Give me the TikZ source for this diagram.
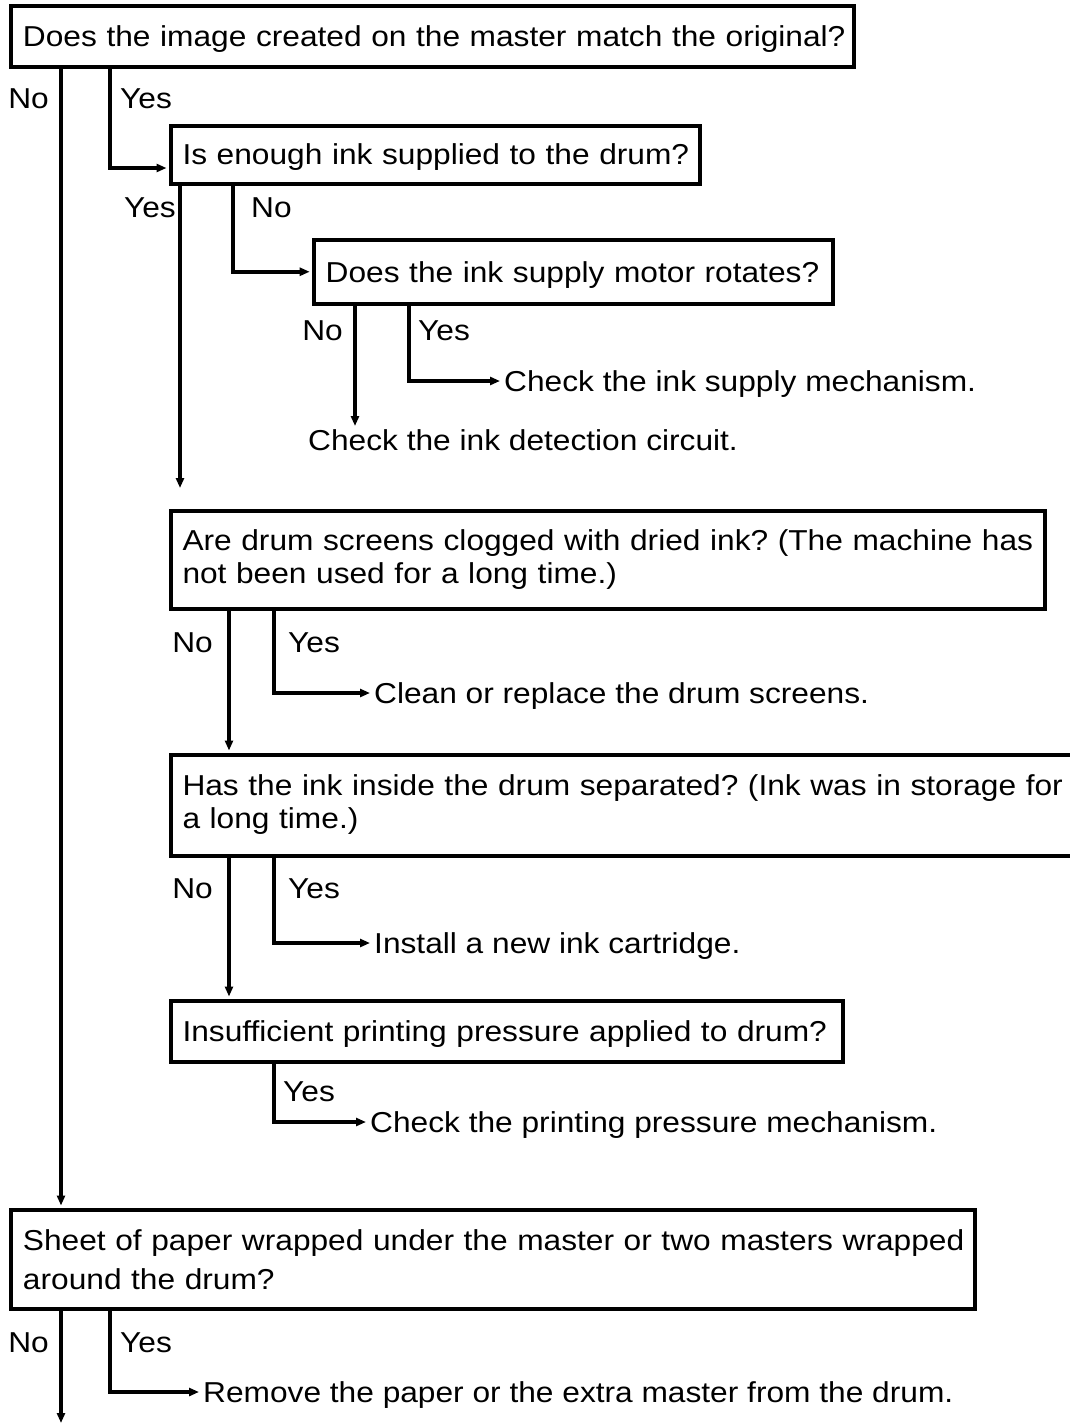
\documentclass[tikz,border=0pt]{standalone}
\usepackage{fontspec}
\setmainfont{Liberation Sans}[FakeStretch=1.1]
\usetikzlibrary{arrows.meta, positioning, calc}
\frenchspacing
% one unbroken line of box text
\newcommand{\qline}[1]{\makebox[0pt][l]{#1}}
\tikzset{
    qbox/.style={rectangle, draw, line width=4pt, outer sep=0pt, anchor=north west,
        align=left, inner xsep=12pt, inner ysep=0pt,
        font=\fontsize{28.8}{33}\selectfont},
    oneline/.style={text height=20.6pt, text depth=0pt},
    answer/.style={inner sep=0pt, text height=20.6pt, text depth=0pt,
        font=\fontsize{28.8}{33}\selectfont},
    action/.style={answer, anchor=west},
    flow/.style={line width=3.5pt, -{Triangle[length=10pt,width=8pt]}, shorten >=4pt}
}

\begin{document}
\begin{tikzpicture}[x=1pt, y=-1pt]
    \useasboundingbox (0,0) rectangle (1069,1424);

    % columns of the branch lines
    \coordinate (cA) at (61,0);
    \coordinate (cB) at (110,0);
    \coordinate (cC) at (180,0);
    \coordinate (cD) at (233,0);
    \coordinate (cE) at (355,0);
    \coordinate (cF) at (409,0);
    \coordinate (cG) at (229,0);
    \coordinate (cH) at (274,0);

    % question boxes
    \node[qbox, oneline, minimum width=843pt, minimum height=60.5pt, text width=819pt] (b1) at (11,6)
        {\qline{Does the image created on the master match the original?}};
    \node[qbox, oneline, minimum width=529.5pt, minimum height=58pt, text width=505.5pt] (b2) at (170.5,125.5)
        {\qline{Is enough ink supplied to the drum?}};
    \node[qbox, oneline, minimum width=519pt, minimum height=63.5pt, text width=495pt] (b3) at (313.7,240)
        {\qline{Does the ink supply motor rotates?}};
    \node[qbox, minimum width=874.5pt, minimum height=98.5pt, text width=850.5pt] (b4) at (170.5,510.5)
        {\qline{Are drum screens clogged with dried ink? (The machine has}\\
         \qline{not been used for a long time.)}};
    \node[qbox, minimum width=910pt, minimum height=101pt, text width=886pt] (b5) at (170.5,754.5)
        {\qline{Has the ink inside the drum separated? (Ink was in storage for}\\
         \qline{a long time.)}};
    \node[qbox, oneline, minimum width=672pt, minimum height=61.5pt, text width=648pt] (b6) at (170.5,1000.5)
        {\qline{Insufficient printing pressure applied to drum?}};
    \node[qbox, font=\fontsize{28.8}{39}\selectfont, minimum width=964pt, minimum height=99.5pt,
        text width=940pt] (b7) at (11,1209.5)
        {\qline{Sheet of paper wrapped under the master or two masters wrapped}\\
         \qline{around the drum?}};

    % remedies
    \node[action] (chk1) at (504,381) {Check the ink supply mechanism.};
    \node[answer, anchor=north west] (chk2) at (308,430) {Check the ink detection circuit.};
    \node[action] (act2) at (374,693) {Clean or replace the drum screens.};
    \node[action] (act3) at (374,943) {Install a new ink cartridge.};
    \node[action] (act4) at (370,1122) {Check the printing pressure mechanism.};
    \node[action] (act5) at (203,1392) {Remove the paper or the extra master from the drum.};

    % open ends
    \coordinate (e1) at (180,492);
    \coordinate (e2) at (61,1427);

    % yes / no labels
    \node[answer, anchor=east] (n1) at (49,98) {No};
    \node[answer, anchor=west] (y1) at (120,98) {Yes};
    \node[answer, anchor=east] (y2) at (176,207) {Yes};
    \node[answer, anchor=west] (n2) at (251,207) {No};
    \node[answer, anchor=east] (n3) at (343,330) {No};
    \node[answer, anchor=west] (y3) at (418,330) {Yes};
    \node[answer, anchor=east] (n4) at (213,642) {No};
    \node[answer, anchor=west] (y4) at (288,642) {Yes};
    \node[answer, anchor=east] (n5) at (213,888) {No};
    \node[answer, anchor=west] (y5) at (288,888) {Yes};
    \node[answer, anchor=west] (y6) at (283,1091) {Yes};
    \node[answer, anchor=east] (n7) at (49,1342) {No};
    \node[answer, anchor=west] (y7) at (120,1342) {Yes};

    % connectors
    \draw[flow] (b1.south -| cA) -- (b7.north -| cA);
    \draw[flow] (b1.south -| cB) |- ([yshift=-13.5pt]b2.west);
    \draw[flow] (b2.south -| cC) -- (e1);
    \draw[flow] (b2.south -| cD) |- (b3.west);
    \draw[flow] (b3.south -| cF) |- (chk1.west);
    \draw[flow] (b3.south -| cE) -- (chk2.north -| cE);
    \draw[flow] (b4.south -| cG) -- (b5.north -| cG);
    \draw[flow] (b4.south -| cH) |- (act2.west);
    \draw[flow] (b5.south -| cG) -- (b6.north -| cG);
    \draw[flow] (b5.south -| cH) |- (act3.west);
    \draw[flow] (b6.south -| cH) |- (act4.west);
    \draw[flow] (b7.south -| cA) -- (e2);
    \draw[flow] (b7.south -| cB) |- (act5.west);
\end{tikzpicture}
\end{document}
